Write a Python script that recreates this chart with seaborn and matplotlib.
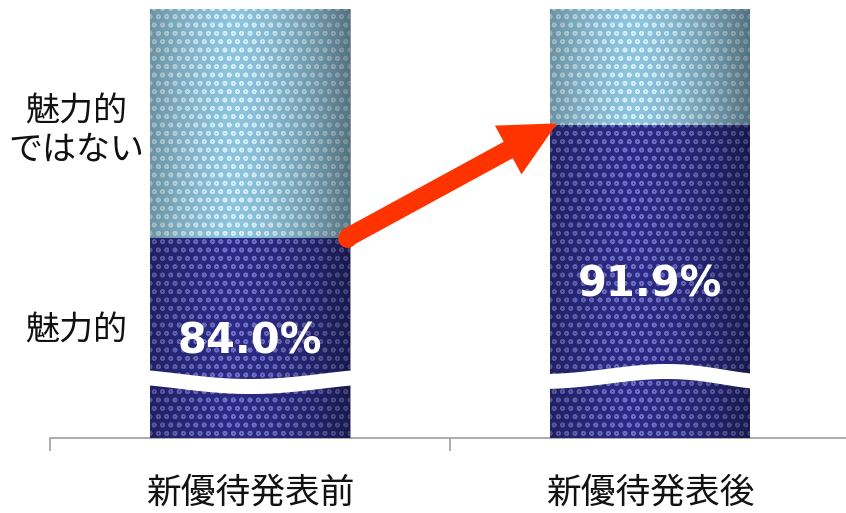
import numpy as np
import pandas as pd
import matplotlib
matplotlib.use("Agg")
import matplotlib.pyplot as plt
import seaborn as sns

# --- data -------------------------------------------------------------
periods = ["新優待発表前", "新優待発表後"]
attractive = [84.0, 91.9]          # 魅力的 (%)
total = [100.0, 100.0]             # whole bar (%)
value_labels = ["84.0%", "91.9%"]
segment_labels = ["魅力的\nではない", "魅力的"]

df = pd.DataFrame({"period": periods, "attractive": attractive, "total": total})

# --- style ------------------------------------------------------------
sns.set_theme(style="white")
plt.rcParams["font.family"] = ["Noto Sans CJK JP", "DejaVu Sans"]
plt.rcParams["hatch.linewidth"] = 1.1

DARK = "#2b2b86"
DARK_DOTS = "#6f6fc4"
LIGHT = "#8ec3dc"
LIGHT_DOTS = "#d2f0fb"
ARROW = "#ff3300"
YMIN, YMAX = 70, 100

fig = plt.figure(figsize=(8.46, 5.13), dpi=100)
ax = fig.add_axes([50 / 846, 75 / 513, 800 / 846, 429 / 513])

sns.barplot(data=df, x="period", y="total", color=LIGHT, width=0.5,
            saturation=1, ax=ax, zorder=2)
sns.barplot(data=df, x="period", y="attractive", color=DARK, width=0.5,
            saturation=1, ax=ax, zorder=3)

n = len(periods)
for i, p in enumerate(ax.patches):
    p.set_linewidth(0)
    p.set_hatch("oo")
    p.set_edgecolor(LIGHT_DOTS if i < n else DARK_DOTS)

# cylinder-like shading across each bar
xs_g = np.linspace(0, 1, 200)
shade = 0.42 * (np.abs(xs_g - 0.42) / 0.58) ** 1.6
grad = np.zeros((1, len(xs_g), 4))
grad[0, :, 3] = shade
for i in range(n):
    ax.imshow(grad, extent=(i - 0.25, i + 0.25, YMIN, YMAX),
              aspect="auto", zorder=4, interpolation="bilinear")

ax.set_xlim(-0.5, 1.5)
ax.set_ylim(YMIN, YMAX)

# wavy axis-break bands
px = 429 / (YMAX - YMIN)  # pixels per percentage point
def py(ypix):
    return YMIN + (438 - ypix) / px

t = np.linspace(0, 1, 100)
wave_centres = [py(377) - (9 / px) * np.sin(np.pi * t) ** 1.3,
                py(381) + (10 / px) * np.sin(np.pi * t ** 1.25) ** 1.5]
half = 7.5 / px
for i in range(n):
    xw = i - 0.27 + 0.54 * t
    ax.fill_between(xw, wave_centres[i] - half, wave_centres[i] + half,
                    color="white", lw=0, zorder=6)

# value labels inside the dark segments
label_y = [py(341), py(284.5)]
for i in range(n):
    ax.text(i, label_y[i], value_labels[i], color="white", fontsize=30,
            fontweight="bold", family="DejaVu Sans",
            ha="center", va="center", zorder=8)

# arrow from the first boundary to the second
x_tail, x_tip = 0.2425, 0.7675
ax.annotate("", xy=(x_tip, attractive[1] + 0.1), xytext=(x_tail, attractive[0]),
            arrowprops=dict(arrowstyle="simple,head_length=4,head_width=4,tail_width=1.35",
                            mutation_scale=10, color=ARROW, lw=0,
                            shrinkA=0, shrinkB=0),
            zorder=9)
ax.plot([x_tail], [attractive[0]], "o", color=ARROW, markersize=13.5,
        markeredgewidth=0, zorder=9)

# segment names on the left
ax.text(-0.435, py(131), segment_labels[0], fontsize=24.5, ha="center",
        va="center", color="#111111", linespacing=1.1, clip_on=False)
ax.text(-0.435, py(331), segment_labels[1], fontsize=24.5, ha="center",
        va="center", color="#111111", clip_on=False)

# axes decoration
for s in ["top", "right", "left"]:
    ax.spines[s].set_visible(False)
ax.spines["bottom"].set_color("#a6a6a6")
ax.spines["bottom"].set_linewidth(1.3)
ax.set_yticks([])
ax.set_ylabel("")
ax.set_xlabel("")
ax.set_xticks([-0.5, 0.5, 1.5])
ax.set_xticklabels([])
ax.tick_params(axis="x", which="major", direction="out", length=9,
               width=1.3, color="#a6a6a6", bottom=True)
ax.set_xticks([0, 1], minor=True)
ax.set_xticklabels(periods, minor=True, fontsize=25, color="#111111")
ax.tick_params(axis="x", which="minor", length=0, pad=27)

fig.savefig("out.png", dpi=100)
